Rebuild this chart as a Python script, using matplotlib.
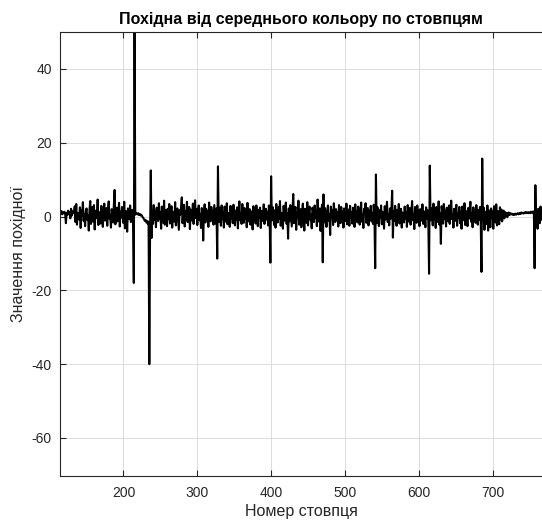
import numpy as np
import matplotlib.pyplot as plt

plt.rcParams['font.family'] = ['Liberation Sans Narrow', 'Liberation Sans', 'DejaVu Sans']
plt.rcParams['axes.unicode_minus'] = False

title = 'Похідна від середнього кольору по стовпцям'
xlabel = 'Номер стовпця'
ylabel = 'Значення похідної'

first_col = 114
xticks = [200, 300, 400, 500, 600, 700]
yticks = [-60, -40, -20, 0, 20, 40]

# big jumps of the derivative (column, value)
spike_cols = [214, 215, 235, 236, 237, 238, 327, 328, 399, 400, 470, 471,
              541, 542, 564, 565, 614, 615, 685, 686, 757, 758]
spike_vals = [-18.0, 55.0, -40.0, -5.0, 12.5, -5.8, -11.4, 13.6, -12.5, 10.9, -12.4, 6.0,
              -14.0, 11.4, 7.0, -5.7, -15.5, 13.8, -15.0, 15.7, -14.0, 8.5]

# the small wiggle between the jumps, read column by column left to right
noise = [
    1.2, 0.8, 1.5, 0.6, 1.1, 0.9, 1.3, 0.7, -1.8, 1.0, 0.4, 1.6, 0.8, 1.2, -0.5, 2.1, 0.3, 1.4, 0.9, 1.1,
    2.8, -1.5, 3.4, -2.2, 1.0, 0.5, -0.8, 2.5, -3.1, 1.8, 0.2, 3.9, -1.2, 0.6, -2.6, 1.5, 2.2, -0.9, 0.4, -3.8,
    1.9, 4.2, -2.0, 0.8, 2.6, -1.4, 3.1, -3.5, 0.7, 1.6, -0.4, 4.6, -2.3, 1.2, 0.3, -1.9, 2.9, 0.6, -2.8, 1.4,
    3.5, -1.1, 0.9, 2.3, -2.5, 1.7, 4.1, -0.6, 0.2, -3.0, 2.0, 1.1, -1.6, 3.3, 7.2, -2.1, 0.8, 2.4, -1.3, 0.5,
    3.7, -2.7, 1.3, -0.3, 2.6, 0.9, -1.8, 4.0, -3.2, 1.5, 0.4, -4.1, 2.2, 1.0, -0.7, 3.0, -1.5, 0.6, 1.8, -0.9,
    # 216-234
    0.5, 1.0, 0.8, 0.6, 0.9, 0.4, 0.7, 0.3, 0.5, 0.2, -0.2, -0.4, -0.8, -1.2, -0.9, -1.6, -1.2, -2.0, -1.4,
    # 239-326
    1.8,
    -2.0, 3.1, -0.8, 1.6, -2.9, 2.4, 0.3, -1.2, 3.6, -0.5, 1.1, -3.3, 2.7, 0.6, -1.7, 4.3, -2.2, 0.9, 1.8, -2.6,
    2.1, -0.7, 3.4, -1.9, 0.4, 2.8, -3.0, 1.3, 0.7, -1.4, 3.9, -2.4, 1.0, 2.2, -0.6, -3.6, 1.7, 0.5, 2.5, 5.2,
    -1.8, 0.8, 3.2, -2.7, 1.4, -0.9, 4.0, -1.5, 0.2, 2.6, -3.4, 1.9, 0.6, -1.1, 3.5, -2.0, 1.2, 4.4, -0.4, 2.0,
    -2.3, 1.5, 3.0, -1.0, 0.7, -3.1, 2.3, 1.1, -6.5, 0.9, 3.3, -1.6, 2.1, -0.5, 1.4, -2.8, 3.8, 0.3, -1.3, 2.6,
    -0.8, 1.7, -2.2, 3.1, 0.5, -1.9, 2.2,
    # 329-398
    -1.5, 2.4, 0.6, -2.5, 3.0, -0.7, 1.3, -3.0, 2.7, 0.2, -1.4, 3.6, -2.1, 1.0, 0.4, -2.8, 2.9, -0.6, 1.8, -1.8,
    3.2, 0.5, -2.4, 1.6, -0.9, 2.5, -3.2, 1.2, 4.1, -1.0, 0.8, -2.0, 3.4, 0.1, -1.7, 2.3, -0.5, 1.9, -2.9, 3.7,
    -1.3, 0.9, 2.0, -2.2, 1.4, 0.3, -3.5, 2.8, -0.2, 1.1, -1.9, 3.0, 0.6, -2.6, 1.8, -0.4, 2.4, -3.1, 1.5, 0.7,
    -1.2, 3.3, -2.0, 0.9, 2.1, -0.8, 1.3, -2.4, 3.0, -0.5,
    # 401-469
    -1.0, 2.6, 0.4, -2.3, 1.7, -3.0, 3.4, 0.2, -1.6, 2.5, -0.7, 4.2, -2.5, 1.0, 0.5, -3.3, 2.9, -1.1, 1.6, 3.8,
    -2.0, 0.8, -6.0, 2.2, -1.3, 3.1, 0.4, -2.7, 1.9, 6.1, -1.8, 0.7, 2.6, -3.6, 1.2, -0.4, 4.3, -2.2, 0.9, 2.0,
    -2.9, 1.4, 3.5, -0.6, -3.8, 2.1, 0.3, -1.7, 3.9, -2.4, 1.0, 2.7, -0.9, 0.5, -3.2, 2.4, 1.3, -1.5, 3.0, -0.3,
    1.8, -2.6, 4.6, 0.2, -1.4, 2.2, -3.9, 1.1, 3.2,
    # 472-540
    -1.6, 2.3, 0.5, -2.8, 1.5, 3.0, -1.1, 0.6, -5.0, 2.7, -0.4, 1.8, -2.3, 3.6, 0.3, -1.5, 2.0, -0.8, 1.2, -2.7,
    3.1, 0.4, -1.8, 2.6, -0.6, 1.4, -3.0, 2.2, 0.8, -1.2, 3.5, -2.1, 0.7, 1.9, -2.5, 2.9, -0.3, 1.1, -1.9, 2.4,
    0.2, -2.8, 3.3, -0.9, 1.5, -1.6, 2.7, 0.5, -2.2, 1.2, 3.8, -1.4, 0.6, -3.1, 2.1, 0.9, 3.6, -1.7, 0.4, 2.3,
    -2.4, 1.6, -0.5, 2.9, -1.3, 0.8, -2.0, 3.2, 0.1,
    # 543-563
    -1.8, 2.5, 0.6, -2.6, 1.7, -0.4, 3.0, -2.1, 1.3, 0.2, -3.3, 2.8, -0.8, 1.4, 4.0, -1.5, 0.7, -2.4, 2.2, -0.6, 1.9,
    # 566-613
    1.5, -1.2, 2.9, 0.3, -2.5, 1.8, -0.7, 3.4, -1.9, 0.9, 2.1, -3.0, 1.1, 0.4, -1.6, 2.7, -0.5, 1.3, -2.8, 3.1,
    0.6, -1.4, 2.3, -2.2, 1.0, 4.2, -0.9, 0.5, -3.4, 2.6, 1.2, -1.7, 3.0, -0.3, 1.6, -2.6, 2.0, 0.7, -1.1, 3.3,
    -2.0, 1.4, 0.2, -2.9, 2.5, -0.6, 1.7, -1.3,
    # 616-684
    -1.0, 2.2, 0.5, -2.4, 3.5, -0.8, 1.2, -3.1, 2.6, 0.3, -1.5, 4.1, -2.2, 0.9, -7.4, 2.8, 1.0, -1.9, 3.4, -0.5,
    1.6, -2.7, 2.4, 0.4, -1.3, 3.0, -2.0, 1.1, 4.3, -0.7, 0.6, -3.0, 2.1, -1.2, 1.8, 3.2, -2.5, 0.8, -0.4, 2.6,
    -1.8, 1.3, -3.3, 2.7, 0.2, -1.0, 3.6, -2.3, 1.5, 0.5, -2.6, 2.3, -0.6, 1.9, 4.0, -1.4, 0.9, -2.9, 2.5, -0.2,
    1.2, -1.7, 3.1, 0.4, -2.2, 1.8, -0.9, 2.6, -1.4,
    # 687-756
    -1.1, 2.4, -3.6, 1.3, 0.5, -2.0, 3.0, -3.8, 1.7, 0.8, -2.9, 2.2, -0.4, 1.4, -3.3, 2.8, 0.3, -1.6, 3.3, -2.4,
    1.5, 0.6, -2.1, 2.5, -0.8, 1.9, -1.3, 0.7, 1.6, -0.5, 1.2, 0.3, 1.0, -0.2, 0.8, 1.1, 0.4, 0.9, 0.6, 0.8,
    0.5, 0.7, 0.4, 0.6, 0.8, 0.5, 0.7, 0.9, 0.6, 0.8, 1.0, 0.7, 1.1, 0.9, 1.0, 0.8, 1.1, 0.9, 1.2, 1.0,
    1.1, 0.9, 1.2, 1.0, 0.9, 1.3, 1.1, 1.0, 1.4, 1.1,
    # 759-767
    -2.2, 1.6, -3.3, 2.1, 0.4, -1.8, 2.7, -0.9, 1.3,
]

# place the wiggle on the columns not taken by a jump, then merge
free_cols = [c for c in range(first_col, first_col + 2000) if c not in spike_cols][:len(noise)]
cols = np.array(free_cols + spike_cols)
vals = np.array(noise + spike_vals)
order = np.argsort(cols)
cols, vals = cols[order], vals[order]

fig = plt.figure(figsize=(5.42, 5.30), dpi=100, facecolor='w')
ax = fig.add_axes([60 / 542, 54 / 530, 482 / 542, 444 / 530])
ax.plot(cols, vals, color='k', lw=1.5)

ax.set_xlim(114, 767)
ax.set_ylim(-70.3, 50)
ax.set_xticks(xticks)
ax.set_yticks(yticks)
ax.grid(True, color='#dcdcdc', lw=0.7)
ax.set_axisbelow(True)

dark = '#262626'
for side in ['left', 'bottom', 'top']:
    ax.spines[side].set_color(dark)
    ax.spines[side].set_linewidth(0.8)
ax.spines['right'].set_visible(False)
ax.tick_params(direction='in', top=True, right=False, colors=dark, labelsize=10, length=4)
ax.tick_params(axis='x', pad=7)
ax.tick_params(axis='y', pad=6)

ax.set_title(title, fontsize=11.5, fontweight='bold', color='k', pad=6)
ax.set_xlabel(xlabel, fontsize=11.5, color=dark, labelpad=3)
ax.set_ylabel(ylabel, fontsize=11.5, color=dark, labelpad=4)

fig.savefig('out.png', dpi=100)
